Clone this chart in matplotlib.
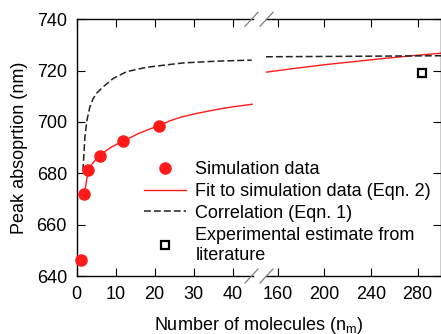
import matplotlib.pyplot as plt
from matplotlib.lines import Line2D

plt.rcParams['font.family'] = ['Liberation Sans', 'DejaVu Sans']
plt.rcParams['font.size'] = 13

# Simulation points
sim_n = [1, 2, 3, 6, 12, 21]
sim_peak = [646.2, 671.9, 681.2, 686.9, 692.6, 698.4]

# Fit to simulation data (Eqn. 2)
fit_n_left = [2, 2.5, 3, 3.5, 4, 5, 6, 7.5, 9, 10.5, 12, 14, 16, 18.5, 21, 24, 27, 31, 36, 40, 45]
fit_peak_left = [672.0, 677.0, 680.8, 682.4, 683.7, 685.6, 687.0, 688.8, 690.3, 691.5, 692.6,
                 694.1, 695.6, 697.1, 698.5, 700.5, 702.0, 703.4, 704.9, 705.9, 706.9]
fit_n_right = [150, 175, 200, 225, 250, 275, 300]
fit_peak_right = [719.4, 720.9, 722.3, 723.5, 724.7, 725.8, 726.8]

# Correlation (Eqn. 1)
cor_n_left = [1.6, 2.1, 2.6, 3.4, 4.2, 5.1, 6.8, 9.4, 12.8, 17.9, 23.9, 27.3, 35.9, 44.9]
cor_peak_left = [681.0, 694.0, 700.5, 706.0, 709.0, 711.2, 713.7, 717.0, 719.6, 721.3, 722.4, 723.0, 723.7, 724.1]
cor_n_right = [150, 300]
cor_peak_right = [725.4, 725.8]

# Experimental estimate
exp_n = [284]
exp_peak = [719.1]

fig = plt.figure(figsize=(4.41, 3.34), dpi=100)
W, H = 441, 334
bot, top = 1 - 276 / H, 1 - 19.3 / H
ax1 = fig.add_axes([76.7 / W, bot, (253.3 - 76.7) / W, top - bot])
ax2 = fig.add_axes([266.0 / W, bot, (441.0 - 266.0) / W, top - bot])

red = '#ff1a1a'
dash = (4.5, 2)
for ax in (ax1, ax2):
    ax.plot(fit_n_left, fit_peak_left, color=red, lw=1.0)
    ax.plot(fit_n_right, fit_peak_right, color=red, lw=1.0)
    ax.plot(cor_n_left, cor_peak_left, color='#222222', lw=1.1, dashes=dash)
    ax.plot(cor_n_right, cor_peak_right, color='#222222', lw=1.1, dashes=dash)
    ax.set_ylim(640, 740)
    ax.set_yticks(range(640, 741, 20))
    for s in ax.spines.values():
        s.set_linewidth(1.0)

ax1.plot(sim_n, sim_peak, 'o', color=red, ms=8, mec=red, clip_on=False, zorder=5)
ax2.plot(exp_n, exp_peak, 's', ms=5.5, mfc='white', mec='black', mew=1.6, zorder=5)

ax1.set_xlim(0, 45.3)
ax1.set_xticks([0, 10, 20, 30, 40])
ax1.spines['right'].set_visible(False)
ax1.tick_params(direction='in', length=6, top=True, right=False, pad=7)
ax1.set_ylabel('Peak absoprtion (nm)', labelpad=6)

ax2.set_xlim(150, 300)
ax2.set_xticks([160, 200, 240, 280])
ax2.spines['left'].set_visible(False)
ax2.tick_params(direction='in', length=6, top=True, left=False, right=True,
                labelleft=False, pad=7)

# break marks
for y0 in (19.3, 276):
    for x0 in (245, 260):
        fig.add_artist(Line2D([x0 / W, (x0 + 13) / W],
                              [1 - (y0 + 7) / H, 1 - (y0 - 7) / H],
                              color='#808080', lw=0.9))

fig.text(258.8 / W, 1 - 325 / H, 'Number of molecules (n$_\\mathregular{m}$)',
         ha='center', va='center')

handles = [
    Line2D([], [], ls='none', marker='o', color=red, ms=8),
    Line2D([], [], color=red, lw=1.0),
    Line2D([], [], color='#222222', lw=1.1, dashes=dash),
    Line2D([], [], ls='none', marker='s', ms=5.5, mfc='white', mec='black', mew=1.6),
]
labels = ['Simulation data', 'Fit to simulation data (Eqn. 2)',
          'Correlation (Eqn. 1)', 'Experimental estimate from\nliterature']
leg = fig.legend(handles, labels, loc='upper left', bbox_to_anchor=(144 / W, 1 - 161 / H),
                 frameon=False, borderpad=0, borderaxespad=0, handlelength=2.3,
                 handletextpad=0.55, labelspacing=0.27)
for t in leg.get_texts():
    t.set_linespacing(1.25)

plt.savefig('out.png', dpi=100)
